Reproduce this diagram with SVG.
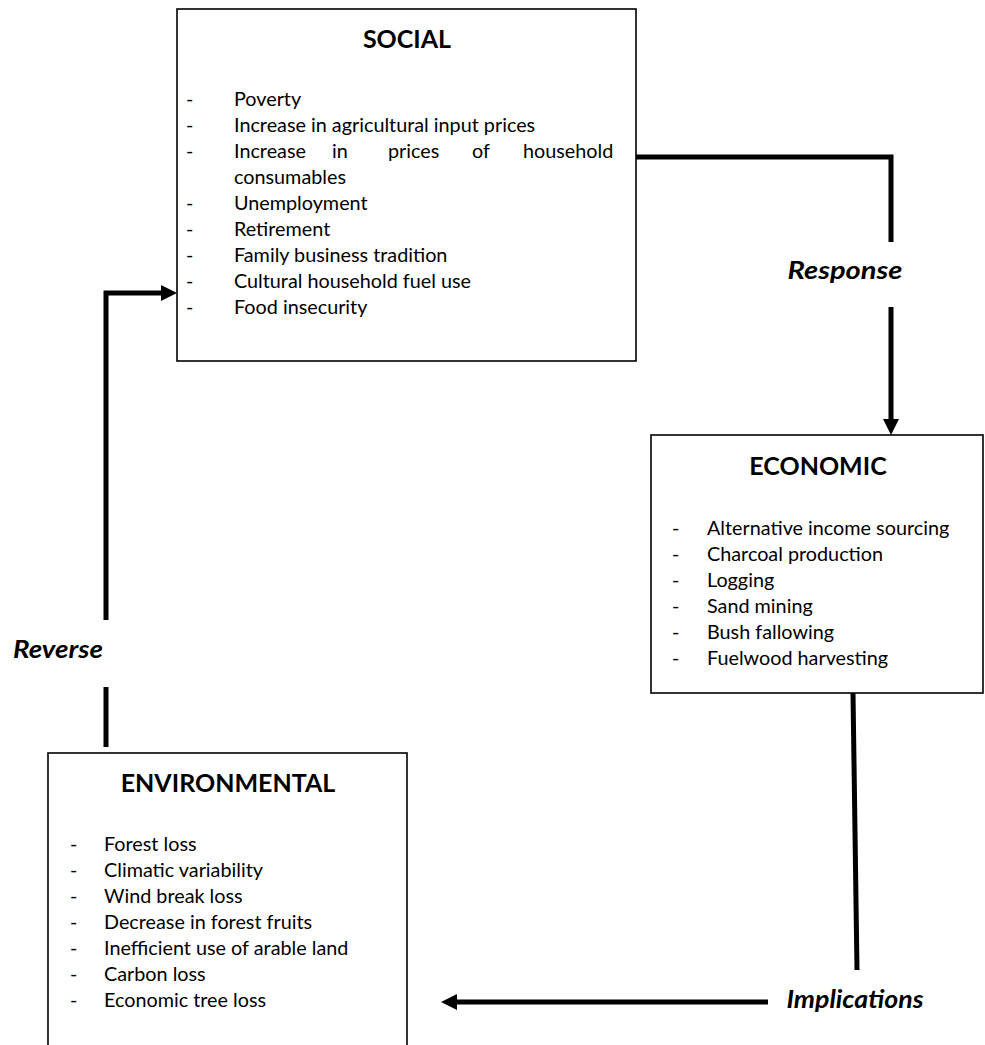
<svg xmlns="http://www.w3.org/2000/svg" width="985" height="1045" viewBox="0 0 985 1045">
<style>
.box{fill:#fff;stroke:#000;stroke-width:1.6}
.title{font-family:Lato,"Liberation Sans",sans-serif;font-weight:bold;font-size:25px;fill:#000;text-anchor:middle}
.item{font-family:Lato,"Liberation Sans",sans-serif;font-size:19.8px;fill:#000}
.lbl{font-family:Lato,"Liberation Sans",sans-serif;font-weight:bold;font-style:italic;font-size:24px;fill:#000;text-anchor:middle}
.conn{fill:none;stroke:#000;stroke-width:5;stroke-linejoin:miter;stroke-linecap:butt}
</style>
<defs>
<marker id="ah" markerUnits="userSpaceOnUse" markerWidth="18" markerHeight="18" refX="2" refY="8" orient="auto">
<path d="M0,0 L16,8 L0,16 Z" fill="#000"/>
</marker>
</defs>
<rect width="985" height="1045" fill="#fff"/>
<g id="social">
<rect class="box" x="177" y="9" width="459" height="352"/>
<text class="title" x="407" y="48">SOCIAL</text>
<g class="item">
<text x="186" y="106">-</text><text x="234" y="106">Poverty</text>
<text x="186" y="132">-</text><text x="234" y="132">Increase in agricultural input prices</text>
<text x="186" y="158">-</text><text y="158"><tspan x="234">Increase</tspan><tspan x="332">in</tspan><tspan x="388">prices</tspan><tspan x="472">of</tspan><tspan x="523">household</tspan></text>
<text x="234" y="184">consumables</text>
<text x="186" y="210">-</text><text x="234" y="210">Unemployment</text>
<text x="186" y="236">-</text><text x="234" y="236">Retirement</text>
<text x="186" y="262">-</text><text x="234" y="262">Family business tradition</text>
<text x="186" y="288">-</text><text x="234" y="288">Cultural household fuel use</text>
<text x="186" y="314">-</text><text x="234" y="314">Food insecurity</text>
</g>
</g>
<g id="economic">
<rect class="box" x="651" y="435" width="332" height="258"/>
<text class="title" x="818" y="475">ECONOMIC</text>
<g class="item">
<text x="672" y="535">-</text><text x="707" y="535">Alternative income sourcing</text>
<text x="672" y="561">-</text><text x="707" y="561">Charcoal production</text>
<text x="672" y="587">-</text><text x="707" y="587">Logging</text>
<text x="672" y="613">-</text><text x="707" y="613">Sand mining</text>
<text x="672" y="639">-</text><text x="707" y="639">Bush fallowing</text>
<text x="672" y="665">-</text><text x="707" y="665">Fuelwood harvesting</text>
</g>
</g>
<g id="environmental">
<rect class="box" x="48" y="753" width="359" height="300"/>
<text class="title" x="228" y="792">ENVIRONMENTAL</text>
<g class="item">
<text x="70" y="851">-</text><text x="104" y="851">Forest loss</text>
<text x="70" y="877">-</text><text x="104" y="877">Climatic variability</text>
<text x="70" y="903">-</text><text x="104" y="903">Wind break loss</text>
<text x="70" y="929">-</text><text x="104" y="929">Decrease in forest fruits</text>
<text x="70" y="955">-</text><text x="104" y="955">Inefficient use of arable land</text>
<text x="70" y="981">-</text><text x="104" y="981">Carbon loss</text>
<text x="70" y="1007">-</text><text x="104" y="1007">Economic tree loss</text>
</g>
</g>
<g id="connectors">
<path class="conn" d="M636,157 H891 V242"/>
<path class="conn" d="M891,307 V421" marker-end="url(#ah)"/>
<text class="lbl" x="845" y="279" textLength="115" lengthAdjust="spacingAndGlyphs">Response</text>
<path class="conn" d="M853,693 L857,970"/>
<path class="conn" d="M768,1002 H455" marker-end="url(#ah)"/>
<text class="lbl" x="855" y="1008" textLength="137" lengthAdjust="spacingAndGlyphs">Implications</text>
<path class="conn" d="M106,747 V687"/>
<path class="conn" d="M106,620 V293 H163" marker-end="url(#ah)"/>
<text class="lbl" x="58" y="658" textLength="90" lengthAdjust="spacingAndGlyphs">Reverse</text>
</g>
</svg>
